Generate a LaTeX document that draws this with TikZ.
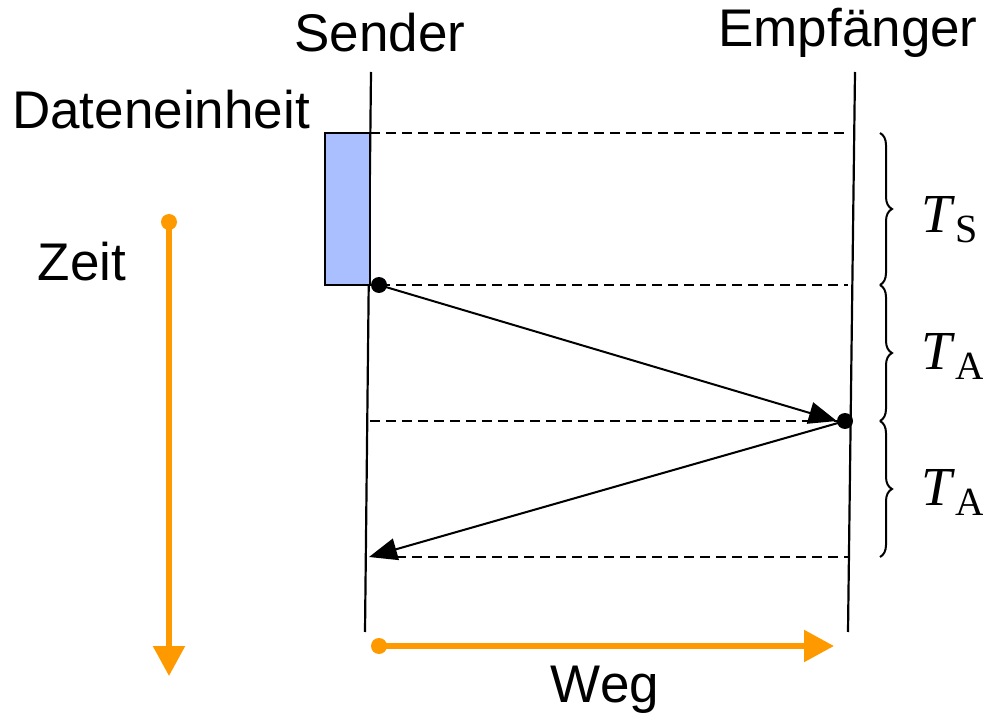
\documentclass[tikz,border=0pt]{standalone}
\usepackage{fontspec}
\setmainfont{Liberation Sans}
\newfontfamily\timesfont{Liberation Serif}
\usetikzlibrary{arrows.meta,decorations.pathreplacing}
\definecolor{orangeaxis}{RGB}{255,153,0}
\definecolor{unitblue}{RGB}{170,191,255}
\begin{document}
\begin{tikzpicture}[x=1pt,y=-1pt,
  lifeline/.style={line width=2.2pt},
  level/.style={line width=1.8pt,dash pattern=on 10pt off 6pt},
  msg/.style={line width=2pt,-{Triangle[length=28pt,width=22pt]}},
  dotmark/.style={circle,fill=black,inner sep=0pt,minimum size=16pt},
  axis/.style={orangeaxis,line width=5.5pt,-{Triangle[length=30pt,width=31pt]}},
  axisdot/.style={circle,fill=orangeaxis,inner sep=0pt,minimum size=16pt},
  lbl/.style={font=\fontsize{53}{60}\selectfont,inner sep=0pt},
  tlbl/.style={font=\timesfont\fontsize{55}{60}\selectfont,inner sep=0pt},
  timebrace/.style={decorate,decoration={brace,amplitude=12pt},line width=2pt}]
\useasboundingbox (0,0) rectangle (983,727);

% lifelines of sender and receiver
\coordinate (s0) at (371,72);
\coordinate (s1) at (365,632);
\coordinate (e0) at (855,72);
\coordinate (e1) at (848,632);
\draw[lifeline] (s0) -- (s1);
\draw[lifeline] (e0) -- (e1);

% data unit being sent
\draw[fill=unitblue,line width=2pt] (325,133) rectangle (370,285);

% time levels
\coordinate (l1a) at (370,133); \coordinate (l1b) at (848,133);
\coordinate (l2a) at (380,285); \coordinate (l2b) at (848,285);
\coordinate (l3a) at (370,421); \coordinate (l3b) at (840,421);
\coordinate (l4a) at (380,557); \coordinate (l4b) at (848,557);
\draw[level] (l1a) -- (l1b);
\draw[level] (l2a) -- (l2b);
\draw[level] (l3a) -- (l3b);
\draw[level] (l4a) -- (l4b);

% signal propagation
\node[dotmark] (d1) at (379,285) {};
\node[dotmark] (d2) at (845,421) {};
\coordinate (back) at (369,557);
\draw[msg] (d1.center) -- (d2.west);
\draw[msg] (d2.center) -- (back);

% durations
\draw[timebrace] (880,133) -- (880,285);
\draw[timebrace] (880,285) -- (880,421);
\draw[timebrace] (880,421) -- (880,557);
\node[tlbl,anchor=west] (ts) at (921,220) {\textit{T}\raisebox{-10pt}{\fontsize{40}{40}\selectfont S}};
\node[tlbl,anchor=west] (ta1) at (921,356) {\textit{T}\raisebox{-10pt}{\fontsize{40}{40}\selectfont A}};
\node[tlbl,anchor=west] (ta2) at (921,492) {\textit{T}\raisebox{-10pt}{\fontsize{40}{40}\selectfont A}};

% axes
\node[axisdot] (z0) at (169,222) {};
\coordinate (z1) at (169,676);
\draw[axis] (z0.center) -- (z1);
\node[axisdot] (w0) at (379,646) {};
\coordinate (w1) at (834,646);
\draw[axis] (w0.center) -- (w1);

% labels
\node[lbl] (sender) at (380,33) {Sender};
\node[lbl] (empf) at (848,33) {Empfänger};
\node[lbl] (unit) at (161,110) {Dateneinheit};
\node[lbl] (zeit) at (82,262) {Zeit};
\node[lbl] (weg) at (605,690) {Weg};
\end{tikzpicture}
\end{document}
